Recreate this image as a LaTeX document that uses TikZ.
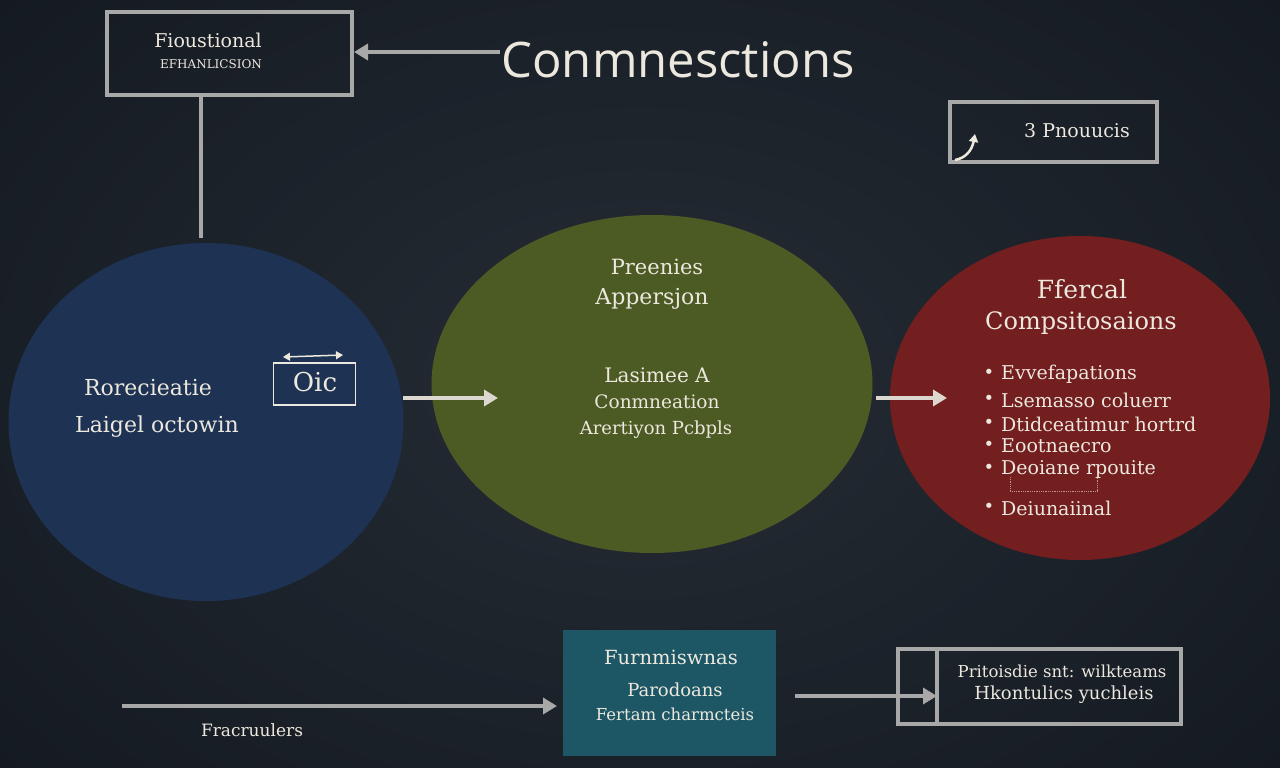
\documentclass[tikz,border=0pt]{standalone}
\usepackage{fontspec}
\setmainfont{DejaVu Serif}
\newfontfamily\titlefont{Open Sans}
\usetikzlibrary{arrows.meta,shapes.geometric}
\definecolor{bgc}{HTML}{1B222B}
\definecolor{bgdark}{HTML}{0F1318}
\definecolor{linegray}{HTML}{A8A8A8}
\definecolor{txt}{HTML}{ECE8DE}
\definecolor{bluefill}{HTML}{1E3254}
\definecolor{greenfill}{HTML}{4C5A24}
\definecolor{redfill}{HTML}{731E1F}
\definecolor{tealfill}{HTML}{1D5766}
\tikzset{
  graybox/.style={draw=linegray, line width=4pt, inner sep=0pt},
  garrow/.style={draw=linegray, line width=4pt, -{Triangle[length=14pt,width=16pt]}},
  warrow/.style={draw=txt!85!gray, line width=3.5pt, -{Triangle[length=14pt,width=16pt]}},
  lbl/.style={text=txt, inner sep=0pt, font=\fontsize{#1}{#1}\selectfont},
  lbl/.default=20,
  blob/.style={ellipse, draw=none, inner sep=0pt},
}
\begin{document}
\begin{tikzpicture}[x=1pt,y=-1pt]
\useasboundingbox (0,0) rectangle (1280,768);
\shade[inner color=bgc!90!white, outer color=bgdark] (-200,-200) rectangle (1480,968);
\fill[bgc, opacity=0.5] (0,0) rectangle (1280,768);

% title
\node[lbl, font=\titlefont\fontsize{49}{49}\selectfont] (title) at (678,60) {Conmnesctions};

% top-left box
\node[graybox, minimum width=245pt, minimum height=83pt] (fbox) at (229.5,53.5) {};
\node[lbl=19] (f1) at (208,40) {Fioustional};
\node[lbl=12] (f2) at (211,64) {EFHANLICSION};
\coordinate (tstart) at (500,52);
\draw[garrow] (tstart) -- (fbox.east |- tstart);
\coordinate (vtop) at (201,95);
\coordinate (vbot) at (201,238);
\draw[draw=linegray, line width=4pt] (vtop) -- (vbot);

% top-right box
\node[graybox, minimum width=207pt, minimum height=60pt] (pbox) at (1053.5,132) {};
\node[lbl=19] (ptxt) at (1077,131) {3 Pnouucis};
\coordinate (ca) at (955,160);
\coordinate (cb) at (975,134);
\draw[draw=txt, line width=2.5pt, -{Triangle[length=8pt,width=9pt]}] (ca) .. controls (966,158) and (972,150) .. (cb);

% blue circle
\node[blob, fill=bluefill, minimum width=395pt, minimum height=358pt] (blue) at (206,422) {};
\node[lbl=22] (b1) at (148,388) {Rorecieatie};
\node[lbl=22] (b2) at (157,427) {Laigel octowin};
\node[draw=txt, line width=1.5pt, minimum width=82pt, minimum height=42pt, inner sep=0pt] (oic) at (314.5,384) {};
\node[lbl=26] (oict) at (315,382) {Oic};
\coordinate (oa) at (343,355);
\coordinate (ob) at (283,357);
\draw[draw=txt, line width=1.5pt, {Triangle[length=7pt,width=8pt]}-{Triangle[length=7pt,width=8pt]}] (ob) -- (oa);

% green ellipse
\node[blob, fill=greenfill, minimum width=441pt, minimum height=338pt] (green) at (652,384) {};
\node[lbl=21] (g1) at (657,267) {Preenies};
\node[lbl=22] (g2) at (652,299) {Appersjon};
\node[lbl=20] (g3) at (657,375) {Lasimee A};
\node[lbl=18.5] (g4) at (657,402) {Conmneation};
\node[lbl=18] (g5) at (656,430) {Arertiyon Pcbpls};

% red ellipse
\node[blob, fill=redfill, minimum width=380pt, minimum height=324pt] (red) at (1080,398) {};
\node[lbl=25] (r1) at (1082,289) {Ffercal};
\node[lbl=24] (r2) at (1081,323) {Compsitosaions};
\foreach \yy/\tt [count=\i] in {374/Evvefapations, 400/Lsemasso coluerr, 424/Dtidceatimur hortrd, 446/Eootnaecro, 469/Deoiane rpouite, 508/Deiunaiinal}{
  \node[lbl=19, anchor=west] (rb\i) at (1001,\yy) {\tt};
  \node[lbl=18] (rd\i) at (989,\yy) {\textbullet};
}
\coordinate (d1) at (1010,477);
\coordinate (d2) at (1097,477);
\draw[draw=txt!60!redfill, line width=0.8pt, densely dotted] (d1) -- (1010,491) -- (1097,491) -- (d2);

% arrows between circles
\coordinate (a1s) at (403,398);
\coordinate (a1e) at (498,398);
\draw[warrow] (a1s) -- (a1e);
\coordinate (a2s) at (876,398);
\coordinate (a2e) at (947,398);
\draw[warrow] (a2s) -- (a2e);

% teal box
\node[fill=tealfill, minimum width=213pt, minimum height=126pt, inner sep=0pt] (teal) at (669.5,693) {};
\node[lbl=19.5] (t1) at (671,657) {Furnmiswnas};
\node[lbl=18] (t2) at (675,690) {Parodoans};
\node[lbl=16.5] (t3) at (675,714) {Fertam charmcteis};

% bottom-left arrow and label
\coordinate (bl) at (122,706);
\coordinate (ble) at (557,706);
\draw[garrow] (bl) -- (ble);
\node[lbl=17] (fr) at (252,730) {Fracruulers};

% bottom-right box
\node[graybox, minimum width=283pt, minimum height=75pt] (brbox) at (1039.5,686.5) {};
\coordinate (divt) at (937,649);
\coordinate (divb) at (937,724);
\draw[draw=linegray, line width=4pt] (divt) -- (divb);
\coordinate (ba) at (795,696);
\draw[garrow] (ba) -- (divt |- ba);
\node[lbl=16.5] (br1) at (1062,671) {Pritoisdie snt: wilkteams};
\node[lbl=18] (br2) at (1064,695) {Hkontulics yuchleis};
\end{tikzpicture}
\end{document}
